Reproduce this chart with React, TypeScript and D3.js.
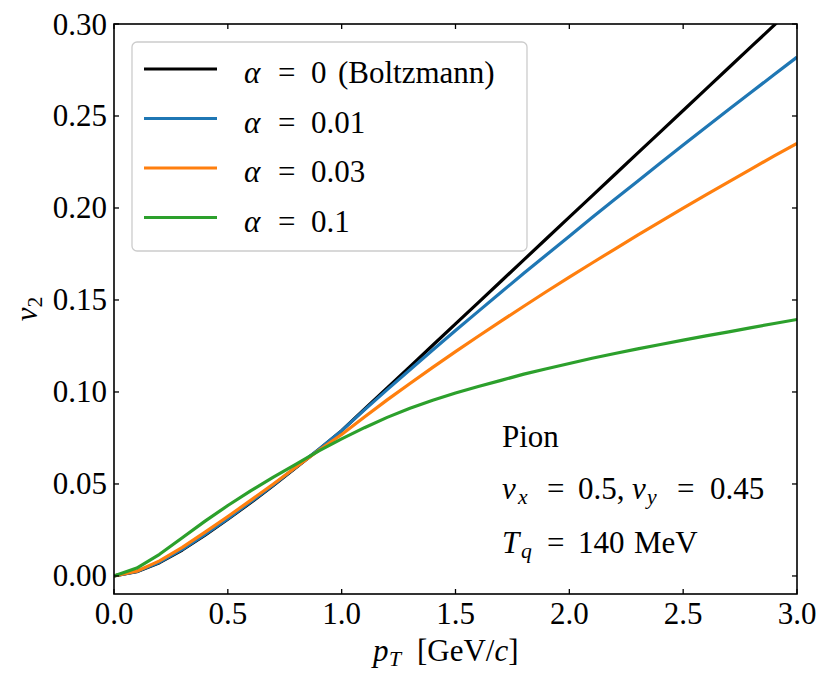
import { line, scaleLinear } from "d3";

// pT grid [GeV/c]
const pT = [
  0.0, 0.1, 0.2, 0.3, 0.4, 0.5, 0.6, 0.7, 0.8, 0.9, 1.0, 1.1, 1.2, 1.3, 1.4, 1.5,
  1.6, 1.7, 1.8, 1.9, 2.0, 2.1, 2.2, 2.3, 2.4, 2.5, 2.6, 2.7, 2.8, 2.9, 3.0,
];

// v2 for alpha = 0 (Boltzmann)
const v2Boltzmann = [
  0.0, 0.0023, 0.0072, 0.0141, 0.0222, 0.0308, 0.0398, 0.0492, 0.059, 0.0688, 0.079,
  0.0906, 0.1022, 0.1138, 0.1254, 0.137, 0.1486, 0.1602, 0.1718, 0.1834, 0.195,
  0.2066, 0.2182, 0.2298, 0.2414, 0.253, 0.2646, 0.2762, 0.2878, 0.2994, 0.311,
];

// v2 for alpha = 0.01
const v2Alpha001 = [
  0.0, 0.0024, 0.0075, 0.0145, 0.0226, 0.0312, 0.0402, 0.0495, 0.0592, 0.0689, 0.079,
  0.0903, 0.1013, 0.1121, 0.1228, 0.1334, 0.1438, 0.1542, 0.1645, 0.1746, 0.1847,
  0.1948, 0.2047, 0.2146, 0.2244, 0.2342, 0.2439, 0.2535, 0.263, 0.2726, 0.282,
];

// v2 for alpha = 0.03
const v2Alpha003 = [
  0.0, 0.0026, 0.0082, 0.0155, 0.0238, 0.0323, 0.0411, 0.05, 0.0592, 0.0683, 0.0769,
  0.0864, 0.0957, 0.1046, 0.1134, 0.1219, 0.1303, 0.1385, 0.1466, 0.1546, 0.1624,
  0.1701, 0.1777, 0.1852, 0.1926, 0.1999, 0.2071, 0.2142, 0.2213, 0.2283, 0.2351,
];

// v2 for alpha = 0.1
const v2Alpha01 = [
  0.0, 0.0043, 0.0118, 0.0208, 0.0298, 0.0383, 0.0462, 0.0537, 0.0608, 0.068, 0.0745,
  0.0806, 0.0862, 0.0912, 0.0955, 0.0994, 0.103, 0.1063, 0.1097, 0.1126, 0.1155,
  0.1183, 0.1209, 0.1234, 0.1258, 0.1282, 0.1305, 0.1327, 0.135, 0.1372, 0.1394,
];

const seriesValueLabels = ["0", "0.01", "0.03", "0.1"];
const seriesNotes = ["(Boltzmann)", "", "", ""];
const seriesColors = ["#000000", "#1f77b4", "#ff7f0e", "#2ca02c"];
const seriesValues = [v2Boltzmann, v2Alpha001, v2Alpha003, v2Alpha01];

const xTicks = [0, 0.5, 1.0, 1.5, 2.0, 2.5, 3.0];
const yTicks = [0.0, 0.05, 0.1, 0.15, 0.2, 0.25, 0.3];

const FONT = "Liberation Serif";
const FS = 31;
const SUB = FS * 0.7;

export default function App() {
  const width = 830;
  const height = 686;
  const plot = { left: 114, right: 797, top: 24, bottom: 594 };

  const x = scaleLinear().domain([0, 3]).range([plot.left, plot.right]);
  const y = scaleLinear().domain([-0.0098, 0.3]).range([plot.bottom, plot.top]);

  const path = (vals: number[]) =>
    line<number>()
      .x((_, i) => x(pT[i]))
      .y((d) => y(d))(vals) ?? "";

  const tickLen = 5;
  const legend = { x: 132, y: 42, w: 395, h: 209, rowH: 49.5 };

  return (
    <svg
      width={width}
      height={height}
      style={{ position: "absolute", left: 0, top: 0, background: "#fff" }}
      fontFamily={FONT}
      fontSize={FS}
    >
      <defs>
        <clipPath id="plotClip">
          <rect x={plot.left} y={plot.top} width={plot.right - plot.left} height={plot.bottom - plot.top} />
        </clipPath>
      </defs>

      {/* curves */}
      <g clipPath="url(#plotClip)">
        {seriesValues.map((vals, i) => (
          <path
            key={i}
            d={path(vals)}
            fill="none"
            stroke={seriesColors[i]}
            strokeWidth={3.2}
            strokeLinejoin="round"
          />
        ))}
      </g>

      {/* ticks, all four sides, pointing in */}
      {xTicks.map((t) => (
        <g key={`x${t}`}>
          <line x1={x(t)} x2={x(t)} y1={plot.bottom} y2={plot.bottom - tickLen} stroke="#000" strokeWidth={1.3} />
          <line x1={x(t)} x2={x(t)} y1={plot.top} y2={plot.top + tickLen} stroke="#000" strokeWidth={1.3} />
          <text x={x(t)} y={624} textAnchor="middle">
            {t.toFixed(1)}
          </text>
        </g>
      ))}
      {yTicks.map((t) => (
        <g key={`y${t}`}>
          <line x1={plot.left} x2={plot.left + tickLen} y1={y(t)} y2={y(t)} stroke="#000" strokeWidth={1.3} />
          <line x1={plot.right} x2={plot.right - tickLen} y1={y(t)} y2={y(t)} stroke="#000" strokeWidth={1.3} />
          <text x={107} y={y(t) + 10.5} textAnchor="end">
            {t.toFixed(2)}
          </text>
        </g>
      ))}

      {/* frame */}
      <rect
        x={plot.left}
        y={plot.top}
        width={plot.right - plot.left}
        height={plot.bottom - plot.top}
        fill="none"
        stroke="#000"
        strokeWidth={1.6}
      />

      {/* legend */}
      <rect
        x={legend.x}
        y={legend.y}
        width={legend.w}
        height={legend.h}
        rx={5}
        fill="#fff"
        fillOpacity={0.8}
        stroke="#cccccc"
        strokeWidth={1.3}
      />
      {seriesValueLabels.map((lab, i) => {
        const cy = 69 + i * legend.rowH;
        return (
          <g key={lab}>
            <line x1={144} x2={217} y1={cy} y2={cy} stroke={seriesColors[i]} strokeWidth={3.2} />
            <text y={cy + 14}>
              <tspan x={244} fontStyle="italic">α</tspan>
              <tspan x={278}>=</tspan>
              <tspan x={311}>{lab}</tspan>
              {seriesNotes[i] ? <tspan x={338}>{seriesNotes[i]}</tspan> : null}
            </text>
          </g>
        );
      })}

      {/* annotation */}
      <text x={502} y={447}>Pion</text>
      <text y={499}>
        <tspan x={502} fontStyle="italic">v</tspan>
        <tspan x={518} fontStyle="italic" fontSize={SUB} dy={5}>x</tspan>
        <tspan x={547} dy={-5}>=</tspan>
        <tspan x={578}>0.5,</tspan>
        <tspan x={632} fontStyle="italic">v</tspan>
        <tspan x={647} fontStyle="italic" fontSize={SUB} dy={5}>y</tspan>
        <tspan x={677} dy={-5}>=</tspan>
        <tspan x={710}>0.45</tspan>
      </text>
      <text y={553}>
        <tspan x={502} fontStyle="italic">T</tspan>
        <tspan x={521} fontStyle="italic" fontSize={SUB} dy={5}>q</tspan>
        <tspan x={547} dy={-5}>=</tspan>
        <tspan x={578}>140</tspan>
        <tspan x={634}>MeV</tspan>
      </text>

      {/* axis labels */}
      <text y={661}>
        <tspan x={373} fontStyle="italic">p</tspan>
        <tspan x={389} fontStyle="italic" fontSize={SUB} dy={5}>T</tspan>
        <tspan x={417} dy={-5}>[GeV/</tspan>
        <tspan fontStyle="italic">c</tspan>
        <tspan>]</tspan>
      </text>
      <text transform={`translate(37, ${(plot.top + plot.bottom) / 2}) rotate(-90)`} textAnchor="middle">
        <tspan fontStyle="italic">v</tspan>
        <tspan fontSize={SUB} dy={5}>2</tspan>
      </text>
    </svg>
  );
}
